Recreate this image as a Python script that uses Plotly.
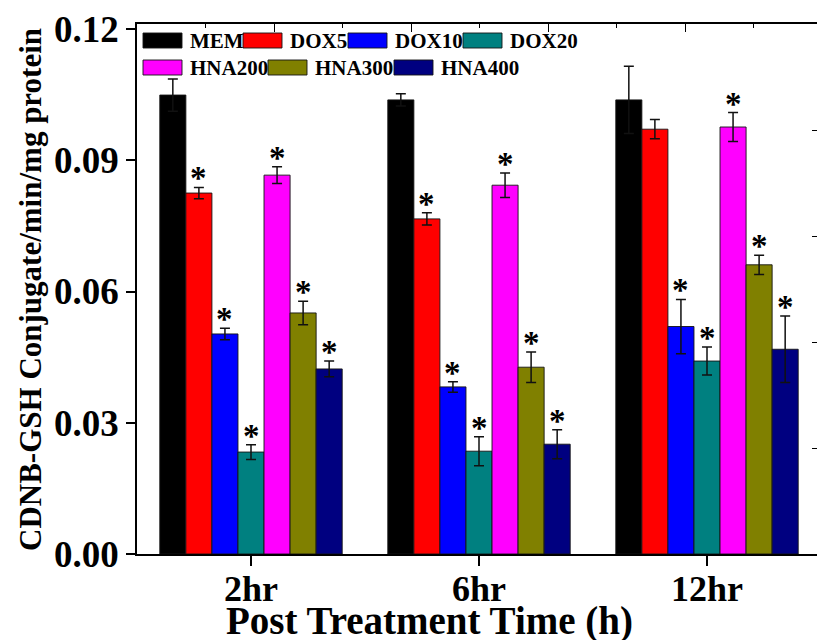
import plotly.graph_objects as go

categories = ["2hr", "6hr", "12hr"]
series_names = ["MEM", "DOX5", "DOX10", "DOX20", "HNA200", "HNA300", "HNA400"]
series_colors = ["#000000", "#FF0000", "#0000FF", "#008080", "#FF00FF", "#808000", "#000080"]

MEM = [0.1049, 0.1038, 0.1038]
DOX5 = [0.0825, 0.0766, 0.0971]
DOX10 = [0.0503, 0.0382, 0.0520]
DOX20 = [0.0233, 0.0235, 0.0441]
HNA200 = [0.0866, 0.0843, 0.0976]
HNA300 = [0.0551, 0.0427, 0.0661]
HNA400 = [0.0423, 0.0251, 0.0468]

MEM_err = [0.0037, 0.0014, 0.0077]
DOX5_err = [0.0013, 0.0014, 0.0022]
DOX10_err = [0.0013, 0.0012, 0.0062]
DOX20_err = [0.0017, 0.0033, 0.0032]
HNA200_err = [0.0019, 0.0028, 0.0033]
HNA300_err = [0.0027, 0.0035, 0.0022]
HNA400_err = [0.0018, 0.0033, 0.0076]

MEM_sig = [False, False, False]
DOX5_sig = [True, True, False]
DOX10_sig = [True, True, True]
DOX20_sig = [True, True, True]
HNA200_sig = [True, True, True]
HNA300_sig = [True, True, True]
HNA400_sig = [True, True, True]

y_ticks = [0.00, 0.03, 0.06, 0.09, 0.12]

values = [MEM, DOX5, DOX10, DOX20, HNA200, HNA300, HNA400]
errors = [MEM_err, DOX5_err, DOX10_err, DOX20_err, HNA200_err, HNA300_err, HNA400_err]
sigs = [MEM_sig, DOX5_sig, DOX10_sig, DOX20_sig, HNA200_sig, HNA300_sig, HNA400_sig]

W, H = 817, 640
L, R, T, B = 137, 0, 24, 86
plot_w = W - L - R
plot_h = H - T - B
FONT = "Liberation Serif"

xs = list(range(len(categories)))
fig = go.Figure()
for name, col, v, e in zip(series_names, series_colors, values, errors):
    fig.add_trace(go.Bar(
        x=xs, y=v, name=name,
        marker=dict(color=col, line=dict(color="rgba(20,20,20,0.9)", width=1)),
        error_y=dict(type="data", array=e, color="#111111", thickness=1.5, width=5),
        showlegend=False,
    ))

# invisible trace for the top/right frame axes
fig.add_trace(go.Scatter(x=[0], y=[0], xaxis="x2", yaxis="y2", mode="markers",
                         marker=dict(opacity=0), showlegend=False, hoverinfo="skip"))

ymax = plot_h / 4375.0
n = len(series_names)
group_w = 0.8
annotations = []
for i, (v, e, s) in enumerate(zip(values, errors, sigs)):
    off = -group_w / 2 + group_w * (i + 0.5) / n
    for j in range(len(categories)):
        if s[j]:
            annotations.append(dict(
                x=j + off, y=v[j] + e[j], xref="x", yref="y", text="*",
                showarrow=False, yanchor="middle", yshift=9,
                font=dict(family=FONT, size=33, color="black", weight="bold")))

def px_x(p):
    return (p - L) / plot_w

def px_y(p):
    return (H - B - p) / plot_h

# manual legend (box 39x15)
legend_pos = [(143, 33), (243, 33), (348, 33), (463, 33), (143, 60), (268, 60), (394, 60)]
shapes = []
for name, col, (lx, ly) in zip(series_names, series_colors, legend_pos):
    shapes.append(dict(type="rect", xref="paper", yref="paper",
                       x0=px_x(lx), x1=px_x(lx + 39), y0=px_y(ly + 15), y1=px_y(ly),
                       fillcolor=col, line=dict(color="rgba(20,20,20,0.9)", width=1)))
    annotations.append(dict(x=px_x(lx + 45), y=px_y(ly + 7.5), xref="paper", yref="paper",
                            text=name, showarrow=False, xanchor="left", yanchor="middle",
                            font=dict(family=FONT, size=21, color="black", weight="bold")))

annotations.append(dict(x=px_x(30), y=px_y(290), xref="paper", yref="paper",
                        text="CDNB-GSH Conjugate/min/mg protein", textangle=-90,
                        showarrow=False, xanchor="center", yanchor="middle",
                        font=dict(family=FONT, size=31, color="black", weight="bold")))
annotations.append(dict(x=px_x(429), y=px_y(621), xref="paper", yref="paper",
                        text="Post Treatment Time (h)", showarrow=False,
                        xanchor="center", yanchor="middle",
                        font=dict(family=FONT, size=39, color="black", weight="bold")))

fig.update_layout(
    width=W, height=H,
    margin=dict(l=L, r=R, t=T, b=B, pad=0),
    plot_bgcolor="white", paper_bgcolor="white",
    barmode="group", bargap=0.2, bargroupgap=0,
    font=dict(family=FONT, color="black"),
    xaxis=dict(range=[-0.5, -0.5 + plot_w / 228.0], tickvals=xs, ticktext=categories,
               showgrid=False, zeroline=False, showline=True, linecolor="black", linewidth=1.5,
               ticks="outside", ticklen=10, tickwidth=1.5, tickcolor="black",
               ticklabelstandoff=-8,
               tickfont=dict(family=FONT, size=36, color="black", weight="bold")),
    yaxis=dict(range=[0, ymax], tickvals=y_ticks, ticktext=[f"{t:.2f}" for t in y_ticks],
               showgrid=False, zeroline=False, showline=True, linecolor="black", linewidth=1.5,
               ticks="outside", ticklen=9, tickwidth=1.5, tickcolor="black",
               tickfont=dict(family=FONT, size=37, color="black", weight="bold")),
    xaxis2=dict(overlaying="x", side="top", anchor="y2", range=[0, plot_w], tick0=0, dtick=137,
                showgrid=False, zeroline=False, showline=True, linecolor="black", linewidth=1.5,
                ticks="inside", ticklen=8, tickwidth=1.2, tickcolor="black", showticklabels=False,
                minor=dict(dtick=68.5, tick0=0, ticks="inside", ticklen=4, tickwidth=1.2, tickcolor="black")),
    yaxis2=dict(overlaying="y", side="right", anchor="x2", range=[0, 5], dtick=1,
                showgrid=False, zeroline=False, showline=True, linecolor="black", linewidth=1.5,
                ticks="inside", ticklen=5, tickwidth=1.2, tickcolor="black", showticklabels=False),
    annotations=annotations, shapes=shapes,
)

fig.write_html("out.html")
